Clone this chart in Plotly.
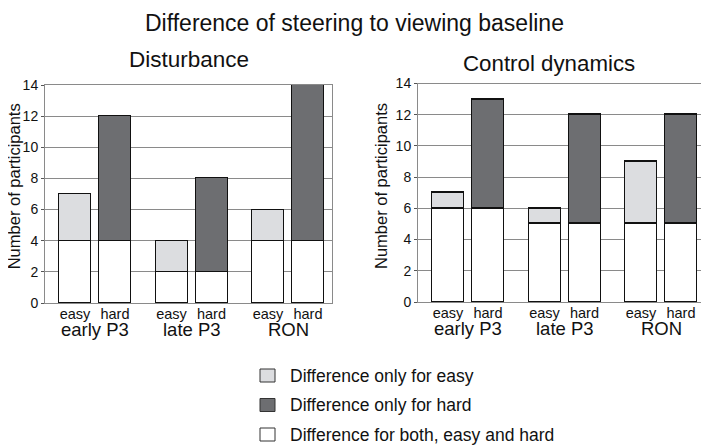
import plotly.graph_objects as go

# data
groups = ["early P3", "late P3", "RON"]
conditions = ["easy", "hard"]

dist_both = [4, 2, 4]
dist_easy_only = [3, 2, 2]
dist_hard_only = [8, 6, 10]

ctrl_both = [6, 5, 5]
ctrl_easy_only = [1, 1, 4]
ctrl_hard_only = [7, 7, 7]

legend_labels = ["Difference only for easy", "Difference only for hard",
                 "Difference for both, easy and hard"]

C_EASY = "#dcdde0"
C_HARD = "#6d6e71"
C_BOTH = "#ffffff"
FONT = "Liberation Sans, Arial, sans-serif"

GROUP_STEP = 96.5
GROUP_START = 50
SUB_OFFSET = 20
BAR_W = 32

# the page body keeps its 8px margin, so the figure starts at (8, 8) on screen
OFF = 8
W = 709 - OFF
H = 448 - OFF


def px(screen_x):
    return (screen_x - OFF) / W


def py(screen_y):
    return 1 - (screen_y - OFF) / H


def positions():
    xs, labels = [], []
    for g in range(len(groups)):
        c = GROUP_START + GROUP_STEP * g
        for k, cond in enumerate(conditions):
            xs.append(c + (2 * k - 1) * SUB_OFFSET)
            labels.append(cond)
    return xs, labels


def build_traces(both, easy_only, hard_only, xaxis, yaxis):
    xs, labels = positions()
    both_vals = [b for b in both for _ in conditions]
    easy_vals = []
    hard_vals = []
    for e, h in zip(easy_only, hard_only):
        easy_vals += [e, None]
        hard_vals += [None, h]
    line = dict(color="#111111", width=1.3)
    common = dict(x=xs, width=BAR_W, xaxis=xaxis, yaxis=yaxis, hoverinfo="skip",
                  showlegend=False)
    return [
        go.Bar(y=both_vals, name=legend_labels[2], marker=dict(color=C_BOTH, line=line), **common),
        go.Bar(y=easy_vals, name=legend_labels[0], marker=dict(color=C_EASY, line=line), **common),
        go.Bar(y=hard_vals, name=legend_labels[1], marker=dict(color=C_HARD, line=line), **common),
    ]


fig = go.Figure()
for t in build_traces(dist_both, dist_easy_only, dist_hard_only, "x", "y"):
    fig.add_trace(t)
for t in build_traces(ctrl_both, ctrl_easy_only, ctrl_hard_only, "x2", "y2"):
    fig.add_trace(t)

xs, labels = positions()
xaxis_style = dict(
    range=[0, 287], tickmode="array", tickvals=xs, ticktext=labels,
    showline=True, mirror=True, linecolor="#8a8a8a", linewidth=1,
    showgrid=False, zeroline=False, ticks="", ticklen=0, automargin=False,
    ticklabelstandoff=-2,
    tickfont=dict(size=14.5, color="#111111"),
)
yaxis_style = dict(
    range=[0, 14], tickvals=list(range(0, 15, 2)),
    showline=True, mirror=True, linecolor="#8a8a8a", linewidth=1,
    showgrid=True, gridcolor="#8a8a8a", gridwidth=1, zeroline=False,
    ticks="outside", ticklen=3, tickcolor="#555555", automargin=False,
    tickfont=dict(size=14, color="#111111"),
)

annotations = [
    dict(text="Difference of steering to viewing baseline", x=px(354), y=1, xref="paper",
         yref="paper", showarrow=False, yanchor="top", yshift=0, font=dict(size=23)),
    dict(text="Disturbance", x=144, y=py(60), xref="x", yref="paper", showarrow=False,
         yanchor="middle", font=dict(size=22.5)),
    dict(text="Control dynamics", x=131, y=py(64), xref="x2", yref="paper", showarrow=False,
         yanchor="middle", font=dict(size=22.3)),
]

# y-axis titles
for xpos in (14.3, 381):
    annotations.append(dict(
        text="Number of participants", x=px(xpos), y=py(186), xref="paper", yref="paper",
        textangle=-90, showarrow=False, xanchor="center", yanchor="middle",
        font=dict(size=16.5),
    ))

# group labels under each pair of bars
for ax, yax in [("x", "y"), ("x2", "y2")]:
    for g, name in enumerate(groups):
        annotations.append(dict(
            text=name, x=GROUP_START + GROUP_STEP * g, xref=ax, y=0, yref=f"{yax} domain",
            yshift=-26, yanchor="middle", showarrow=False, font=dict(size=18.5),
        ))

# key: swatch + label per category
shapes = []
key_colors = [C_EASY, C_HARD, C_BOTH]
key_rows = [375.5, 405, 434.5]
for label, color, row in zip(legend_labels, key_colors, key_rows):
    shapes.append(dict(
        type="rect", xref="paper", yref="paper",
        x0=px(260), x1=px(275), y0=py(row + 6.5), y1=py(row - 6.5),
        fillcolor=color, line=dict(color="#333333", width=1),
    ))
    annotations.append(dict(
        text=label, x=px(288), y=py(row), xref="paper", yref="paper",
        xanchor="left", yanchor="middle", showarrow=False, font=dict(size=17.5),
    ))

fig.update_layout(
    width=W, height=H,
    margin=dict(l=0, r=0, t=0, b=0),
    paper_bgcolor="white", plot_bgcolor="white",
    font=dict(family=FONT, color="#111111"),
    barmode="stack", bargap=0, showlegend=False,
    xaxis=dict(domain=[px(45), px(332)], anchor="y", **xaxis_style),
    yaxis=dict(domain=[py(303), py(85)], anchor="x", **yaxis_style),
    xaxis2=dict(domain=[px(418), px(705)], anchor="y2", **xaxis_style),
    yaxis2=dict(domain=[py(302), py(83.5)], anchor="x2", **yaxis_style),
    annotations=annotations,
    shapes=shapes,
)

fig.write_html("out.html")
